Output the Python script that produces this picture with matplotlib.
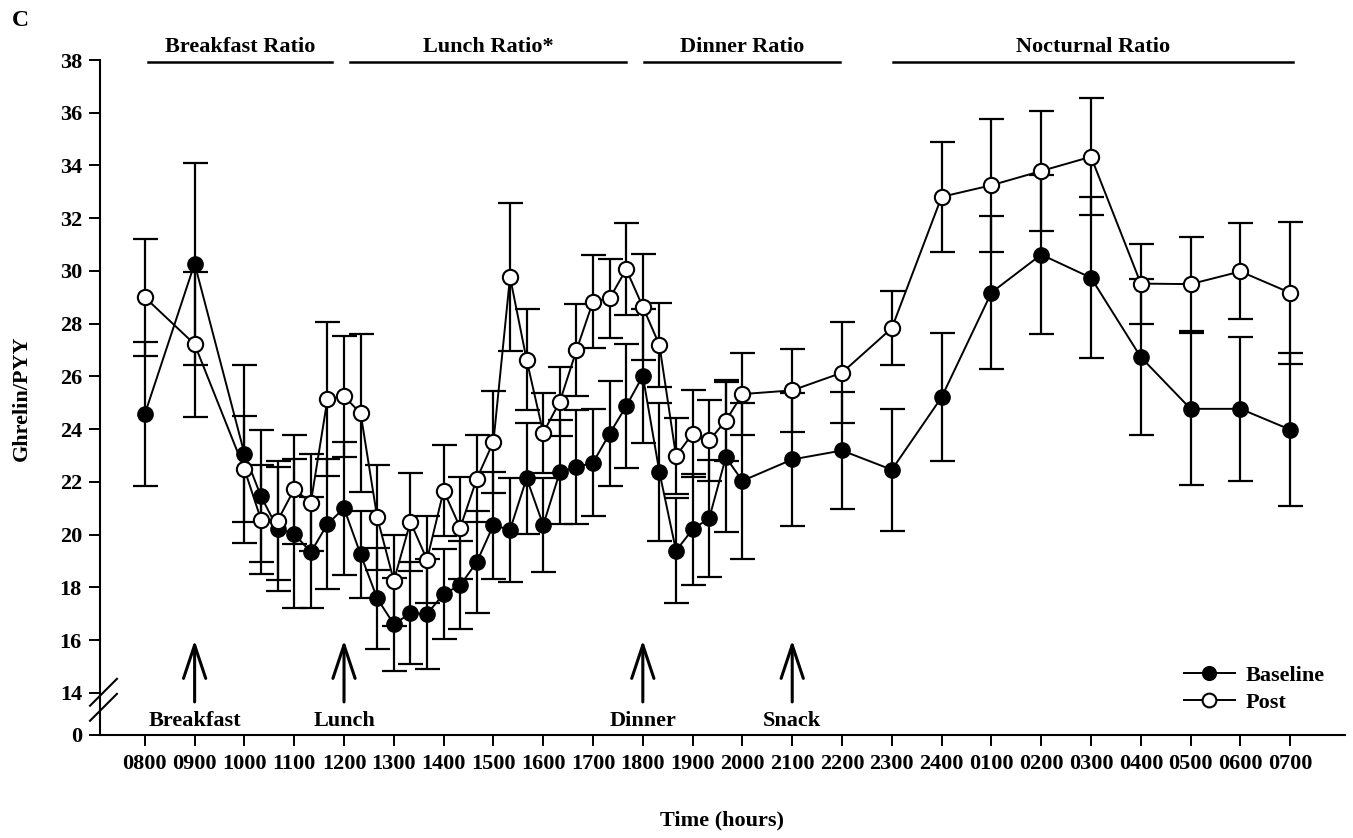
import matplotlib
matplotlib.use("Agg")
import matplotlib.pyplot as plt

# sampling times (clock)
times = ["08:00", "09:00", "10:00", "10:20", "10:40", "11:00", "11:20", "11:40",
         "12:00", "12:20", "12:40", "13:00", "13:20", "13:40", "14:00", "14:20", "14:40",
         "15:00", "15:20", "15:40", "16:00", "16:20", "16:40", "17:00", "17:20", "17:40",
         "18:00", "18:20", "18:40", "19:00", "19:20", "19:40",
         "20:00", "21:00", "22:00", "23:00", "00:00", "01:00", "02:00", "03:00",
         "04:00", "05:00", "06:00", "07:00"]
baseline = [24.57, 30.28, 23.07, 21.45, 20.23, 20.03, 19.33, 20.40,
            21.00, 19.25, 17.58, 16.60, 17.02, 16.99, 17.75, 18.08, 18.96,
            20.36, 20.18, 22.14, 20.36, 22.37, 22.56, 22.73, 23.83, 24.87,
            26.02, 22.37, 19.39, 20.20, 20.62, 22.93,
            22.04, 22.85, 23.19, 22.46, 25.21, 29.18, 30.62, 29.74,
            26.73, 24.77, 24.77, 23.98]
baseline_err = [2.73, 3.83, 3.38, 2.50, 2.35, 2.82, 2.10, 2.45,
                2.53, 1.64, 1.90, 1.77, 1.94, 2.10, 1.72, 1.66, 1.94,
                2.03, 1.98, 2.11, 1.79, 1.98, 2.16, 2.03, 2.00, 2.36,
                2.55, 2.62, 1.98, 2.11, 2.21, 2.84,
                2.96, 2.53, 2.23, 2.31, 2.42, 2.91, 3.02, 3.06,
                2.97, 2.87, 2.72, 2.91]
post = [29.00, 27.22, 22.48, 20.57, 20.53, 21.72, 21.21, 25.13,
        25.25, 24.60, 20.65, 18.25, 20.48, 19.05, 21.67, 20.26, 22.12,
        23.52, 29.77, 26.63, 23.86, 25.04, 26.99, 28.84, 28.96, 30.06,
        28.64, 27.19, 22.98, 23.83, 23.57, 24.32,
        25.33, 25.47, 26.14, 27.83, 32.81, 33.25, 33.79, 34.33,
        29.52, 29.50, 29.98, 29.17]
post_err = [2.23, 2.75, 2.00, 2.06, 2.25, 2.06, 1.84, 2.92,
            2.30, 3.00, 2.00, 1.72, 1.86, 1.64, 1.74, 1.94, 1.66,
            1.94, 2.79, 1.91, 1.52, 1.30, 1.74, 1.77, 1.49, 1.74,
            2.01, 1.60, 1.44, 1.64, 1.55, 1.54,
            1.57, 1.57, 1.91, 1.40, 2.08, 2.53, 2.26, 2.21,
            1.52, 1.77, 1.82, 2.69]

hour_labels = ["0800", "0900", "1000", "1100", "1200", "1300", "1400", "1500",
               "1600", "1700", "1800", "1900", "2000", "2100", "2200", "2300",
               "2400", "0100", "0200", "0300", "0400", "0500", "0600", "0700"]
meals = ["Breakfast", "Lunch", "Dinner", "Snack"]
meal_times = ["09:00", "12:00", "18:00", "21:00"]
ratio_names = ["Breakfast Ratio", "Lunch Ratio*", "Dinner Ratio", "Nocturnal Ratio"]
ratio_starts = ["08:04", "12:07", "18:02", "23:01"]
ratio_ends = ["11:45", "17:40", "21:58", "07:03"]


def hrs(t):
    h, m = t.split(":")
    return (int(h) + int(m) / 60 - 8) % 24


SERIF = ["Liberation Serif", "DejaVu Serif"]
plt.rcParams["font.family"] = SERIF
plt.rcParams["font.weight"] = "bold"
FS = 16

fig = plt.figure(figsize=(13.53, 8.38), dpi=100)
ax = fig.add_axes([100 / 1353, 1 - 735 / 838, 1245 / 1353, 675 / 838])

x = [hrs(t) for t in times]
YMIN = 12.4   # the broken axis: bottom of the axis stands for 0

ax.errorbar(x, baseline, yerr=baseline_err, fmt="none", ecolor="black",
            elinewidth=1.6, capsize=9, capthick=1.6, zorder=2)
ax.errorbar(x, post, yerr=post_err, fmt="none", ecolor="black",
            elinewidth=1.6, capsize=9, capthick=1.6, zorder=2)
ax.plot(x, baseline, "-o", color="black", lw=1.4, ms=11, mfc="black", mec="black",
        label="Baseline", zorder=3)
ax.plot(x, post, "-o", color="black", lw=1.4, ms=11, mfc="white", mec="black",
        mew=1.5, label="Post", zorder=4)

ax.set_xlim(-0.9, 24.1)
ax.set_ylim(YMIN, 38)
ax.set_xticks(range(len(hour_labels)))
ax.set_xticklabels(hour_labels, fontsize=FS, fontweight="bold")
ax.set_yticks([YMIN] + list(range(14, 39, 2)))
ax.set_yticklabels(["0"] + [str(v) for v in range(14, 39, 2)], fontsize=FS,
                   fontweight="bold")
for s in ("top", "right"):
    ax.spines[s].set_visible(False)
for s in ("left", "bottom"):
    ax.spines[s].set_linewidth(1.5)
ax.tick_params(direction="out", length=8, width=1.4)
ax.tick_params(axis="x", pad=6)
ax.tick_params(axis="y", pad=5)

# axis break marks
for y0 in (13.51, 12.94):
    ax.plot([-1.10, -0.56], [y0, y0 + 1.02], color="black", lw=1.5, clip_on=False)

# meal arrows
for name, t in zip(meals, meal_times):
    ax.annotate("", xy=(hrs(t), 16.1), xytext=(hrs(t), 13.55),
                arrowprops=dict(arrowstyle="->,head_length=0.6,head_width=0.2",
                                lw=2.2, color="black", mutation_scale=40))
    ax.text(hrs(t), 12.92, name, ha="center", va="center", fontsize=FS,
            fontweight="bold")

# ratio windows above the plot
for name, a, b in zip(ratio_names, ratio_starts, ratio_ends):
    x0, x1 = hrs(a), hrs(b)
    ax.plot([x0, x1], [37.92, 37.92], color="black", lw=1.8, clip_on=False)
    ax.text((x0 + x1) / 2, 38.5, name, ha="center", va="center", fontsize=FS,
            fontweight="bold")

ax.legend(loc="lower right", bbox_to_anchor=(1.0, 0.003), frameon=False,
          prop=dict(family=SERIF, weight="bold", size=FS), handlelength=2.3,
          handletextpad=0.5, labelspacing=0.3, markerscale=0.9)

fig.text(22 / 1353, 1 - 398 / 838, "Ghrelin/PYY", rotation=90, ha="center", va="center",
         fontsize=FS, fontweight="bold")
fig.text(722 / 1353, 1 - 820 / 838, "Time (hours)", ha="center", va="center",
         fontsize=FS, fontweight="bold")
fig.text(20 / 1353, 1 - 20 / 838, "C", ha="center", va="center", fontsize=17,
         fontweight="bold")

fig.savefig("out.png", dpi=100)
